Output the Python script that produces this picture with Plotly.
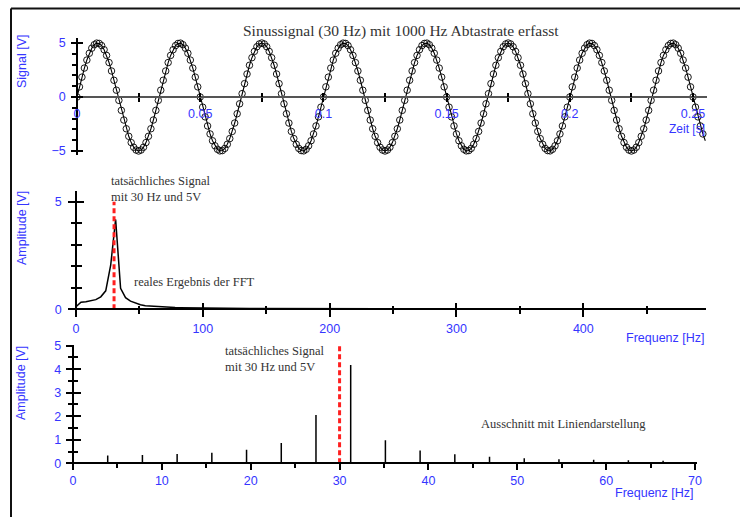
import numpy as np
import plotly.graph_objects as go

# ---------------------------------------------------------------------------
# Data
# ---------------------------------------------------------------------------
SAMPLE_RATE = 1000      # Hz
N_FFT = 256             # number of samples / FFT length
TRUE_FREQ = 30          # Hz, frequency of the real signal
TRUE_AMP = 5            # V, amplitude of the real signal

# sampled signal [V], one value per millisecond
signal_v = [
    0.00, 0.94, 1.84, 2.68, 3.42, 4.05, 4.52, 4.84, 4.99, 4.96,
    4.76, 4.38, 3.85, 3.19, 2.41, 1.55, 0.63, -0.31, -1.24, -2.13,
    -2.94, -3.64, -4.22, -4.65, -4.91, -5.00, -4.91, -4.65, -4.22, -3.64,
    -2.94, -2.13, -1.24, -0.31, 0.63, 1.55, 2.41, 3.19, 3.85, 4.38,
    4.76, 4.96, 4.99, 4.84, 4.52, 4.05, 3.42, 2.68, 1.84, 0.94,
    0.00, -0.94, -1.84, -2.68, -3.42, -4.05, -4.52, -4.84, -4.99, -4.96,
    -4.76, -4.38, -3.85, -3.19, -2.41, -1.55, -0.63, 0.31, 1.24, 2.13,
    2.94, 3.64, 4.22, 4.65, 4.91, 5.00, 4.91, 4.65, 4.22, 3.64,
    2.94, 2.13, 1.24, 0.31, -0.63, -1.55, -2.41, -3.19, -3.85, -4.38,
    -4.76, -4.96, -4.99, -4.84, -4.52, -4.05, -3.42, -2.68, -1.84, -0.94,
    0.00, 0.94, 1.84, 2.68, 3.42, 4.05, 4.52, 4.84, 4.99, 4.96,
    4.76, 4.38, 3.85, 3.19, 2.41, 1.55, 0.63, -0.31, -1.24, -2.13,
    -2.94, -3.64, -4.22, -4.65, -4.91, -5.00, -4.91, -4.65, -4.22, -3.64,
    -2.94, -2.13, -1.24, -0.31, 0.63, 1.55, 2.41, 3.19, 3.85, 4.38,
    4.76, 4.96, 4.99, 4.84, 4.52, 4.05, 3.42, 2.68, 1.84, 0.94,
    0.00, -0.94, -1.84, -2.68, -3.42, -4.05, -4.52, -4.84, -4.99, -4.96,
    -4.76, -4.38, -3.85, -3.19, -2.41, -1.55, -0.63, 0.31, 1.24, 2.13,
    2.94, 3.64, 4.22, 4.65, 4.91, 5.00, 4.91, 4.65, 4.22, 3.64,
    2.94, 2.13, 1.24, 0.31, -0.63, -1.55, -2.41, -3.19, -3.85, -4.38,
    -4.76, -4.96, -4.99, -4.84, -4.52, -4.05, -3.42, -2.68, -1.84, -0.94,
    0.00, 0.94, 1.84, 2.68, 3.42, 4.05, 4.52, 4.84, 4.99, 4.96,
    4.76, 4.38, 3.85, 3.19, 2.41, 1.55, 0.63, -0.31, -1.24, -2.13,
    -2.94, -3.64, -4.22, -4.65, -4.91, -5.00, -4.91, -4.65, -4.22, -3.64,
    -2.94, -2.13, -1.24, -0.31, 0.63, 1.55, 2.41, 3.19, 3.85, 4.38,
    4.76, 4.96, 4.99, 4.84, 4.52, 4.05, 3.42, 2.68, 1.84, 0.94,
    0.00, -0.94, -1.84, -2.68, -3.42, -4.05,
]

# FFT amplitude spectrum [V], one value per frequency bin (0 .. fs/2)
spectrum_v = [
    0.12, 0.33, 0.35, 0.40, 0.45, 0.58, 0.86, 2.05, 4.18, 0.98,
    0.54, 0.38, 0.28, 0.21, 0.17, 0.15, 0.13, 0.11, 0.10, 0.09,
    0.080, 0.075, 0.070, 0.065, 0.060, 0.056, 0.053, 0.050, 0.047, 0.045,
    0.043, 0.041, 0.039, 0.038, 0.036, 0.035, 0.034, 0.033, 0.032, 0.031,
    0.030, 0.029, 0.029, 0.028, 0.027, 0.027, 0.026, 0.026, 0.025, 0.025,
    0.024, 0.024, 0.023, 0.023, 0.023, 0.022, 0.022, 0.022, 0.021, 0.021,
    0.021, 0.020, 0.020, 0.020, 0.020, 0.019, 0.019, 0.019, 0.019, 0.019,
    0.018, 0.018, 0.018, 0.018, 0.018, 0.018, 0.018, 0.017, 0.017, 0.017,
    0.017, 0.017, 0.017, 0.017, 0.017, 0.017, 0.016, 0.016, 0.016, 0.016,
    0.016, 0.016, 0.016, 0.016, 0.016, 0.016, 0.016, 0.016, 0.016, 0.016,
    0.016, 0.016, 0.016, 0.016, 0.016, 0.015, 0.015, 0.015, 0.015, 0.015,
    0.015, 0.015, 0.015, 0.015, 0.015, 0.015, 0.015, 0.015, 0.015, 0.015,
    0.015, 0.015, 0.015, 0.015, 0.015, 0.015, 0.015, 0.015,
]

time_ticks = [0, 0.05, 0.1, 0.15, 0.2, 0.25]
time_ticks_minor = [0.025, 0.075, 0.125, 0.175, 0.225]
freq_ticks = [0, 100, 200, 300, 400]
freq_ticks_minor = [50, 150, 250, 350, 450]
zoom_freq_max = 70

time_s = np.arange(len(signal_v)) / SAMPLE_RATE
freq_hz = np.arange(len(spectrum_v)) * SAMPLE_RATE / N_FFT

# stems for the line spectrum (bins inside the zoomed window)
stem_x, stem_y = [], []
for f, a in zip(freq_hz, spectrum_v):
    if 0 < f <= zoom_freq_max:
        stem_x += [f, f, None]
        stem_y += [0, a, None]

# ---------------------------------------------------------------------------
# Styling helpers
# ---------------------------------------------------------------------------
W, H = 740, 517
BLUE = "#3535ff"
TEXT = "#333333"
SANS = "Liberation Sans, Arial, sans-serif"
SERIF = "Liberation Serif, Times New Roman, serif"


def px(x):
    return x / W


def py(y):
    return 1 - y / H


tickfont = dict(family=SANS, size=12.5, color=BLUE)

fig = go.Figure()

# --- top: sampled sine --------------------------------------------------------
fig.add_trace(go.Scatter(
    x=time_s, y=signal_v, mode="lines",
    line=dict(color="black", width=1.1),
    xaxis="x", yaxis="y", hoverinfo="skip"))
fig.add_trace(go.Scatter(
    x=time_s[:-1], y=signal_v[:-1], mode="markers",
    marker=dict(symbol="circle-open", size=6.5, color="black",
                line=dict(width=0.9, color="black")),
    xaxis="x", yaxis="y", hoverinfo="skip"))

# --- middle: FFT result ---------------------------------------------------------
fig.add_trace(go.Scatter(
    x=freq_hz, y=spectrum_v, mode="lines",
    line=dict(color="black", width=1.5),
    xaxis="x2", yaxis="y2", hoverinfo="skip"))
fig.add_trace(go.Scatter(
    x=[TRUE_FREQ, TRUE_FREQ], y=[0, TRUE_AMP], mode="lines",
    line=dict(color="#ff1f1f", width=3, dash="5px,3px"),
    xaxis="x2", yaxis="y2", hoverinfo="skip"))

# --- bottom: line spectrum ------------------------------------------------------
fig.add_trace(go.Scatter(
    x=stem_x, y=stem_y, mode="lines",
    line=dict(color="black", width=1.5),
    xaxis="x3", yaxis="y3", hoverinfo="skip"))
fig.add_trace(go.Scatter(
    x=[TRUE_FREQ, TRUE_FREQ], y=[0, TRUE_AMP], mode="lines",
    line=dict(color="#ff1f1f", width=3, dash="5px,3px"),
    xaxis="x3", yaxis="y3", hoverinfo="skip"))

# invisible traces so the overlay axes (inner half of crossing ticks) exist
for xa, ya in (("x4", "y4"), ("x5", "y5"), ("x6", "y6")):
    fig.add_trace(go.Scatter(x=[None], y=[None], xaxis=xa, yaxis=ya,
                             showlegend=False, hoverinfo="skip"))

# axis geometry in pixels
T_X0, T_X1, T_ZERO = 77, 707, 97
T_XRANGE = [0, (T_X1 - T_X0) / 2464]
T_YRANGE = [-5.4, 5.45]
T_YDOM = [py(T_ZERO + 5.4 * 10.8), py(T_ZERO - 5.45 * 10.8)]

M_X0, M_X1, M_ZERO = 76, 706, 309.3
M_XRANGE = [0, (M_X1 - M_X0) / 1.2683]
M_YRANGE = [-0.12, 5.5]
M_YDOM = [py(M_ZERO + 0.12 * 21.5), py(M_ZERO - 5.5 * 21.5)]

B_X0, B_X1, B_ZERO = 73, 697, 463.3
B_XRANGE = [0, (B_X1 - B_X0) / 8.886]
B_YRANGE = [-0.08, 5.02]
B_YDOM = [py(B_ZERO + 0.08 * 23.52), py(B_ZERO - 5.02 * 23.52)]

common = dict(showgrid=False, zeroline=False, fixedrange=True, automargin=False)

layout_axes = dict(
    # top panel
    xaxis=dict(domain=[px(T_X0), px(T_X1)], range=T_XRANGE, anchor="free",
               position=py(T_ZERO), showline=True, linecolor="#555555", linewidth=2,
               tickvals=time_ticks, ticks="outside", ticklen=4, tickwidth=1.5,
               tickcolor="black", tickfont=tickfont, ticklabelstandoff=1,
               minor=dict(tickvals=time_ticks_minor, ticks="outside", ticklen=4,
                          tickwidth=1.5, tickcolor="black"), **common),
    xaxis4=dict(overlaying="x", range=T_XRANGE, anchor="free", position=py(T_ZERO),
                tickvals=time_ticks, ticks="inside", ticklen=4, tickwidth=1.5,
                tickcolor="black", showticklabels=False,
                minor=dict(tickvals=time_ticks_minor, ticks="inside", ticklen=4,
                           tickwidth=1.5, tickcolor="black"), **common),
    yaxis=dict(domain=T_YDOM, range=T_YRANGE, anchor="free", position=px(T_X0),
               showline=True, linecolor="black", linewidth=1.5,
               tickvals=[-5, 0, 5], ticks="outside", ticklen=5, tickwidth=1.5,
               tickcolor="black", tickfont=tickfont, ticklabelstandoff=3,
               minor=dict(tickvals=[-4, -3, -2, -1, 1, 2, 3, 4], ticks="outside",
                          ticklen=4, tickwidth=1.5, tickcolor="black"), **common),
    yaxis4=dict(overlaying="y", range=T_YRANGE, anchor="free", position=px(T_X0),
                tickvals=[-5, 0, 5], ticks="inside", ticklen=5, tickwidth=1.5,
                tickcolor="black", showticklabels=False, **common),
    # middle panel
    xaxis2=dict(domain=[px(M_X0), px(M_X1)], range=M_XRANGE, anchor="free",
                position=py(M_ZERO), showline=True, linecolor="black", linewidth=2,
                tickvals=freq_ticks, ticks="outside", ticklen=6.5, tickwidth=1.5,
                tickcolor="black", tickfont=tickfont, ticklabelstandoff=1,
                minor=dict(tickvals=freq_ticks_minor, ticks="outside", ticklen=3.5,
                           tickwidth=1.5, tickcolor="black"), **common),
    xaxis5=dict(overlaying="x2", range=M_XRANGE, anchor="free", position=py(M_ZERO),
                tickvals=freq_ticks, ticks="inside", ticklen=6.5, tickwidth=1.5,
                tickcolor="black", showticklabels=False,
                minor=dict(tickvals=freq_ticks_minor, ticks="inside", ticklen=3.5,
                           tickwidth=1.5, tickcolor="black"), **common),
    yaxis2=dict(domain=M_YDOM, range=M_YRANGE, anchor="free", position=px(M_X0),
                showline=True, linecolor="black", linewidth=1.5,
                tickvals=[0, 5], ticks="outside", ticklen=7, tickwidth=1.5,
                tickcolor="black", tickfont=tickfont, ticklabelstandoff=4,
                minor=dict(tickvals=[1, 2, 3, 4], ticks="outside", ticklen=4.5,
                           tickwidth=1.5, tickcolor="black"), **common),
    yaxis5=dict(overlaying="y2", range=M_YRANGE, anchor="free", position=px(M_X0),
                tickvals=[0, 5], ticks="inside", ticklen=7, tickwidth=1.5,
                tickcolor="black", showticklabels=False,
                minor=dict(tickvals=[1, 2, 3, 4], ticks="inside", ticklen=4.5,
                           tickwidth=1.5, tickcolor="black"), **common),
    # bottom panel
    xaxis3=dict(domain=[px(B_X0), px(B_X1)], range=B_XRANGE, anchor="free",
                position=py(B_ZERO), showline=True, linecolor="black", linewidth=2,
                dtick=10, tick0=0, ticks="outside", ticklen=6, tickwidth=1.5,
                tickcolor="black", tickfont=tickfont, ticklabelstandoff=0,
                minor=dict(dtick=5, ticks="outside", ticklen=4, tickwidth=1.5,
                           tickcolor="black"), **common),
    xaxis6=dict(overlaying="x3", range=B_XRANGE, anchor="free", position=py(B_ZERO),
                showticklabels=False, ticks="", **common),
    yaxis3=dict(domain=B_YDOM, range=B_YRANGE, anchor="free", position=px(B_X0),
                showline=True, linecolor="black", linewidth=1.5,
                dtick=1, tick0=0, ticks="outside", ticklen=6.5, tickwidth=1.5,
                tickcolor="black", tickfont=tickfont, ticklabelstandoff=2,
                minor=dict(dtick=0.5, ticks="outside", ticklen=4, tickwidth=1.5,
                           tickcolor="black"), **common),
    yaxis6=dict(overlaying="y3", range=B_YRANGE, anchor="free", position=px(B_X0),
                dtick=1, tick0=0, ticks="inside", ticklen=6.5, tickwidth=1.5,
                tickcolor="black", showticklabels=False,
                minor=dict(dtick=0.5, ticks="inside", ticklen=4, tickwidth=1.5,
                           tickcolor="black"), **common),
)


def label(text, x, y, xanchor="center", font=None, angle=0):
    return dict(text=text, x=px(x), y=py(y), xref="paper", yref="paper",
                xanchor=xanchor, yanchor="middle", showarrow=False,
                textangle=angle, font=font, borderpad=0)


axis_font = dict(family=SANS, size=12.5, color=BLUE)
serif_font = dict(family=SERIF, size=12.5, color=TEXT)

annotations = [
    label("Sinussignal (30 Hz) mit 1000 Hz Abtastrate erfasst", 401.5, 31,
          font=dict(family=SERIF, size=15.5, color=TEXT)),
    label("Signal [V]", 22, 61, font=axis_font, angle=-90),
    label("Zeit [s]", 706, 129, xanchor="right",
          font=dict(family=SANS, size=12, color=BLUE)),
    label("Amplitude [V]", 22, 228, font=axis_font, angle=-90),
    label("Frequenz [Hz]", 706, 337.5, xanchor="right", font=axis_font),
    label("Amplitude [V]", 21, 383, font=axis_font, angle=-90),
    label("Frequenz [Hz]", 695, 493, xanchor="right", font=axis_font),
    label("tatsächliches Signal", 110, 181, xanchor="left", font=serif_font),
    label("mit 30 Hz und 5V", 110, 197, xanchor="left", font=serif_font),
    label("reales Ergebnis der FFT", 133, 282, xanchor="left", font=serif_font),
    label("tatsächliches Signal", 224, 351, xanchor="left", font=serif_font),
    label("mit 30 Hz und 5V", 224, 367, xanchor="left", font=serif_font),
    label("Ausschnitt mit Liniendarstellung", 480, 423.5, xanchor="left",
          font=serif_font),
]

# outer frame (left and top edges)
shapes = [
    dict(type="line", xref="paper", yref="paper", x0=px(11), x1=px(11),
         y0=py(8.5), y1=-0.05, line=dict(color="#111111", width=2)),
    dict(type="line", xref="paper", yref="paper", x0=px(11), x1=1.05,
         y0=py(8.5), y1=py(8.5), line=dict(color="#111111", width=2)),
]

fig.update_layout(
    template="none",
    width=W, height=H,
    margin=dict(l=0, r=0, t=0, b=0, pad=0, autoexpand=False),
    paper_bgcolor="white", plot_bgcolor="rgba(0,0,0,0)",
    showlegend=False,
    annotations=annotations,
    shapes=shapes,
    **layout_axes,
)

fig.write_html("out.html", config={"displayModeBar": False})
